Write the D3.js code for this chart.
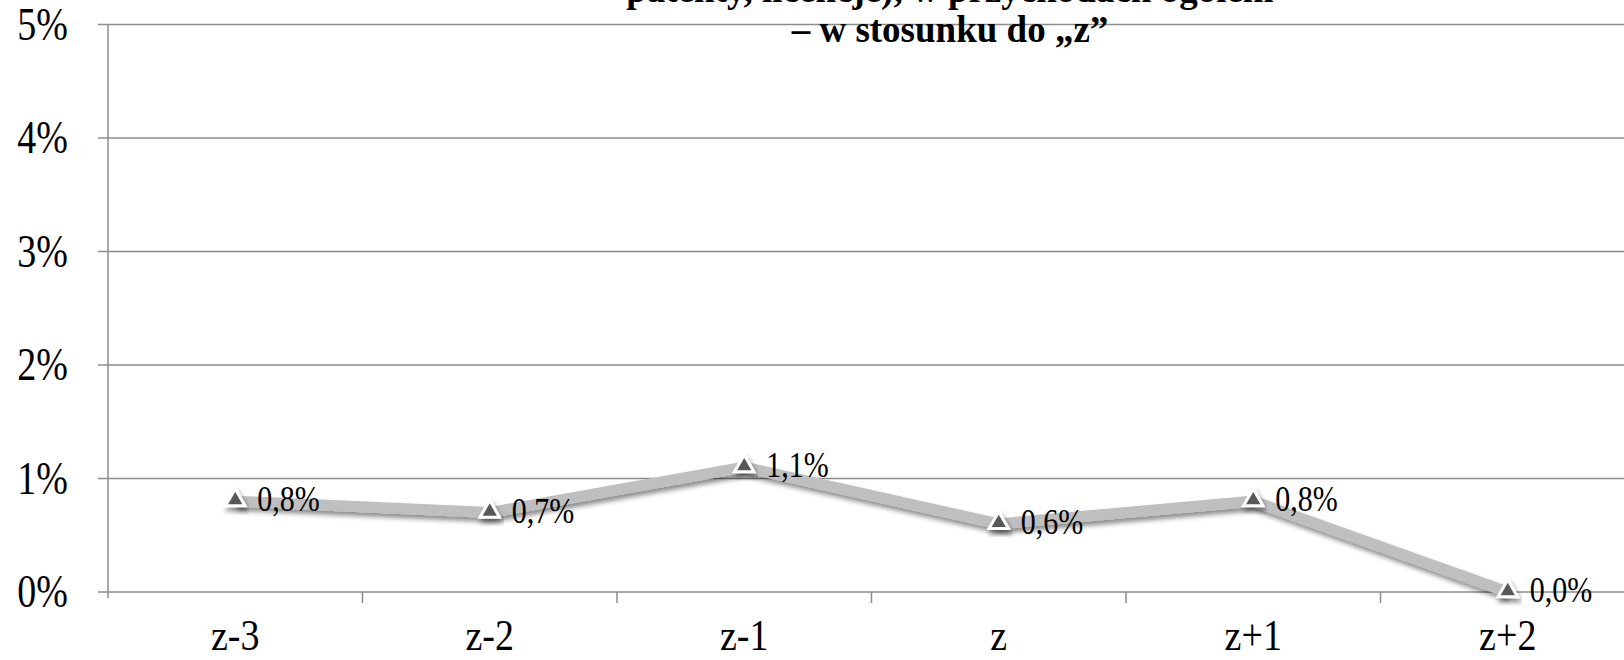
<!DOCTYPE html>
<html>
<head>
<meta charset="utf-8">
<script src="https://cdn.jsdelivr.net/npm/d3@7/dist/d3.min.js"></script>
<style>
html,body{margin:0;padding:0;background:#fff;overflow:hidden;}
svg{display:block;}
text{font-family:'Liberation Serif','Times New Roman',serif;}
</style>
</head>
<body>
<svg id="chart" width="1624" height="660"></svg>
<script>
const categories = ["z-3", "z-2", "z-1", "z", "z+1", "z+2"];
const values = [0.008, 0.007, 0.011, 0.006, 0.008, 0.000];
const valueLabels = ["0,8%", "0,7%", "1,1%", "0,6%", "0,8%", "0,0%"];
const yTicks = [0, 0.01, 0.02, 0.03, 0.04, 0.05];
const yTickLabels = ["0%", "1%", "2%", "3%", "4%", "5%"];
const titleLines = ["patenty, licencje), w przychodach ogółem", "– w stosunku do „z”"];

(function () {
const svg = d3.select("#chart");
const W = 1624, H = 660;
const plotLeft = 108, bandW = 254.5;
const plotTop = 24.5, plotBottom = 592;
const stretch = 1.2;

const x = d3.scaleBand().domain(categories).range([plotLeft, plotLeft + bandW * categories.length]).paddingInner(0).paddingOuter(0);
const y = d3.scaleLinear().domain([0, 0.05]).range([plotBottom, plotTop]);

const defs = svg.append("defs");
const f = defs.append("filter").attr("id", "shadow").attr("x", "-20%").attr("y", "-50%").attr("width", "140%").attr("height", "200%");
f.append("feDropShadow").attr("dx", 2).attr("dy", 4).attr("stdDeviation", 2.5).attr("flood-color", "#000").attr("flood-opacity", 0.45);

// gridlines with left tick extension
svg.append("g").selectAll("line").data(yTicks).join("line")
  .attr("x1", plotLeft - 10).attr("x2", W)
  .attr("y1", d => y(d)).attr("y2", d => y(d))
  .attr("stroke", "#8c8c8c").attr("stroke-width", 1.5);

// y axis line
svg.append("line").attr("x1", plotLeft).attr("x2", plotLeft).attr("y1", plotTop).attr("y2", plotBottom + 6)
  .attr("stroke", "#8c8c8c").attr("stroke-width", 1.5);

// x tick marks at band boundaries
const bounds = categories.slice(1).map(c => x(c));
svg.append("g").selectAll("line").data(bounds).join("line")
  .attr("x1", d => d).attr("x2", d => d).attr("y1", plotBottom).attr("y2", plotBottom + 11)
  .attr("stroke", "#8c8c8c").attr("stroke-width", 1.5);

// y tick labels
svg.append("g").selectAll("text").data(yTicks).join("text")
  .attr("transform", d => `translate(68,${y(d)}) scale(1,${stretch})`)
  .attr("dy", "0.33em")
  .attr("text-anchor", "end")
  .attr("font-size", 38).attr("fill", "#000")
  .text((d, i) => yTickLabels[i]);

// x labels
svg.append("g").selectAll("text").data(categories).join("text")
  .attr("transform", d => `translate(${x(d) + x.bandwidth() / 2},650) scale(1,1.15)`)
  .attr("text-anchor", "middle")
  .attr("font-size", 38).attr("fill", "#000")
  .text(d => d);

// title
svg.append("g").selectAll("text").data(titleLines).join("text")
  .attr("transform", (d, i) => `translate(950,${2 + i * 40})`)
  .attr("text-anchor", "middle")
  .attr("font-weight", "bold")
  .attr("font-size", 37).attr("fill", "#000")
  .text(d => d);

const pts = categories.map((c, i) => [x(c) + x.bandwidth() / 2, y(values[i])]);

// line
svg.append("path").datum(pts)
  .attr("d", d3.line())
  .attr("fill", "none").attr("stroke", "#bfbfbf").attr("stroke-width", 11)
  .attr("stroke-linejoin", "miter")
  .attr("filter", "url(#shadow)");

// markers
svg.append("g").selectAll("path").data(pts).join("path")
  .attr("transform", d => `translate(${d[0]},${d[1] - 1})`)
  .attr("d", d3.symbol().type(d3.symbolTriangle).size(165))
  .attr("fill", "#595959").attr("stroke", "#fff").attr("stroke-width", 3)
  .attr("filter", "url(#shadow)");

// data labels
svg.append("g").selectAll("text").data(pts).join("text")
  .attr("transform", d => `translate(${d[0] + 22},${d[1] + 10}) scale(1,${stretch})`)
  .attr("font-size", 30).attr("fill", "#000")
  .text((d, i) => valueLabels[i]);
})();
</script>
</body>
</html>
